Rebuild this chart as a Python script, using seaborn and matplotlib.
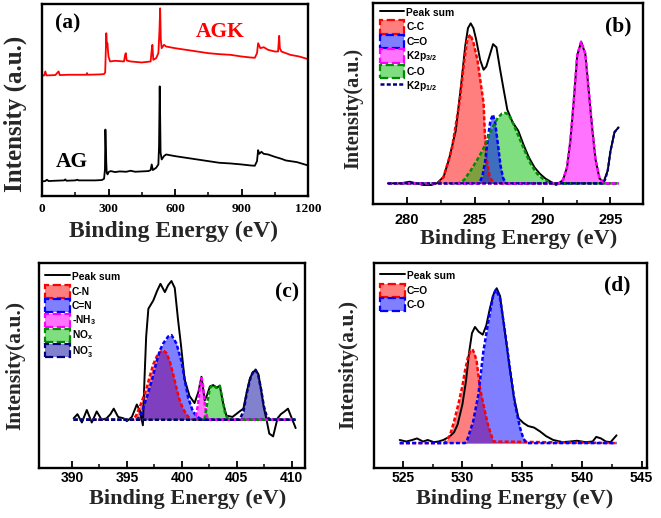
import numpy as np
import pandas as pd
import matplotlib
matplotlib.use("Agg")
import matplotlib.pyplot as plt
from matplotlib.lines import Line2D
from matplotlib.patches import Patch
import seaborn as sns

# ---- (a) survey spectra (intensity in arbitrary offset units) ----
survey_ev_ag = [0, 15, 22, 30, 60, 100, 105, 110, 150, 160, 165, 200, 240, 270, 280, 284, 286, 288,
                290, 292, 296, 300, 310, 330, 350, 380, 400, 420, 450, 480, 490, 495, 500, 515, 525,
                528, 531, 533, 535, 540, 550, 560, 600, 650, 700, 750, 800, 850, 900, 940, 960, 970,
                975, 980, 990, 1000, 1020, 1050, 1080, 1100, 1150, 1200]
survey_ag = [0.44, 0.45, 0.49, 0.45, 0.46, 0.47, 0.5, 0.46, 0.47, 0.49, 0.47, 0.47, 0.47, 0.48, 0.52,
             0.8, 2.0, 1.5, 1.0, 0.7, 0.65, 0.72, 0.75, 0.72, 0.74, 0.73, 0.76, 0.73, 0.74, 0.75,
             0.78, 0.95, 0.78, 0.85, 0.95, 1.5, 3.3, 2.4, 1.3, 1.1, 1.2, 1.25, 1.2, 1.15, 1.1, 1.05,
             1.0, 0.98, 0.95, 0.92, 0.91, 1.05, 1.38, 1.27, 1.33, 1.27, 1.25, 1.18, 1.12, 1.07,
             1.02, 0.92]
survey_ev_agk = [0, 10, 15, 20, 60, 75, 80, 120, 200, 203, 206, 260, 280, 285, 288, 290, 293, 295,
                 300, 307, 330, 370, 375, 378, 382, 400, 450, 490, 495, 498, 502, 515, 525, 530,
                 533, 536, 540, 550, 560, 600, 650, 700, 750, 800, 850, 900, 940, 960, 970, 975,
                 985, 1000, 1020, 1050, 1065, 1070, 1073, 1080, 1120, 1160, 1200]
survey_agk = [3.62, 3.63, 3.75, 3.63, 3.64, 3.75, 3.64, 3.65, 3.65, 3.7, 3.65, 3.66, 3.67, 3.72,
              4.4, 4.9, 4.5, 4.6, 4.2, 4.05, 4.07, 4.05, 4.25, 4.3, 4.08, 4.05, 4.02, 4.05, 4.4,
              4.55, 4.1, 4.15, 4.3, 5.0, 5.65, 4.7, 4.45, 4.55, 4.5, 4.45, 4.4, 4.35, 4.3, 4.27,
              4.25, 4.2, 4.17, 4.16, 4.3, 4.6, 4.45, 4.48, 4.4, 4.35, 4.35, 4.82, 4.45, 4.35,
              4.25, 4.2, 4.12]
survey_ticks = [0, 300, 600, 900, 1200]
survey_minor = [150, 450, 750, 1050]

# ---- (b) C 1s ----
c1s_sum_ev = [278.6, 279.5, 280.2, 280.7, 281.2, 281.8, 282.2, 282.7, 283.1, 283.6, 284.0, 284.3,
              284.5, 284.7, 284.9, 285.1, 285.4, 285.65, 285.85, 286.1, 286.35, 286.6, 286.85,
              287.1, 287.4, 287.8, 288.2, 288.6, 289.0, 289.4, 289.8, 290.2, 290.6, 291.0, 291.5,
              291.8, 292.05, 292.3, 292.55, 292.84, 293.15, 293.4, 293.65, 293.9, 294.2, 294.5,
              294.8, 295.0, 295.3, 295.6]
c1s_sum = [0.0, 0.0, 0.01, 0.0, -0.01, -0.01, 0.0, 0.04, 0.15, 0.33, 0.62, 0.86, 0.97, 1.0, 0.97,
           0.9, 0.77, 0.71, 0.73, 0.8, 0.87, 0.85, 0.72, 0.6, 0.46, 0.38, 0.33, 0.24, 0.16, 0.1,
           0.06, 0.03, 0.01, -0.01, 0.02, 0.1, 0.27, 0.52, 0.8, 0.885, 0.81, 0.58, 0.35, 0.15,
           0.03, 0.01, 0.08, 0.2, 0.32, 0.35]
c1s_cc_ev = [278.6, 282.3, 282.7, 283.3, 283.9, 284.2, 284.45, 284.67, 284.9, 285.2, 285.45,
             285.65, 285.75, 285.9, 286.1, 286.4, 295.6]
c1s_cc = [0, 0, 0.04, 0.21, 0.52, 0.75, 0.9, 0.93, 0.88, 0.77, 0.62, 0.5, 0.3, 0.14, 0.04, 0, 0]
c1s_c_eq_o_ev = [278.6, 285.3, 285.55, 285.75, 285.95, 286.15, 286.34, 286.5, 286.7, 286.9,
                 287.1, 287.35, 295.6]
c1s_c_eq_o = [0, 0, 0.04, 0.13, 0.27, 0.39, 0.43, 0.38, 0.25, 0.11, 0.03, 0, 0]
c1s_k32_ev = [278.6, 291.2, 291.5, 291.8, 292.05, 292.3, 292.55, 292.84, 293.15, 293.4, 293.65,
              293.9, 294.2, 294.5, 295.6]
c1s_k32 = [0, 0, 0.02, 0.1, 0.27, 0.52, 0.8, 0.885, 0.81, 0.58, 0.35, 0.15, 0.03, 0, 0]
c1s_c_o_ev = [278.6, 283.8, 284.2, 284.7, 285.2, 285.6, 285.9, 286.3, 286.7, 287.0, 287.25,
              287.5, 287.8, 288.1, 288.5, 288.85, 289.2, 289.6, 290.0, 290.4, 290.8, 295.6]
c1s_c_o = [0, 0, 0.02, 0.08, 0.15, 0.21, 0.27, 0.35, 0.41, 0.435, 0.44, 0.43, 0.38, 0.32, 0.24,
           0.17, 0.11, 0.06, 0.03, 0.01, 0, 0]
c1s_k12_ev = [278.6, 294.4, 294.6, 294.8, 295.0, 295.3, 295.6]
c1s_k12 = [0, 0, 0.02, 0.08, 0.2, 0.32, 0.35]
c1s_ticks = [280, 285, 290, 295]
c1s_minor = [282.5, 287.5, 292.5]

# ---- (c) N 1s ----
n1s_sum_ev = [390.15, 390.5, 390.9, 391.35, 391.8, 392.25, 392.7, 393.15, 393.5, 393.8, 394.2,
              394.7, 395.0, 395.45, 395.9, 396.2, 396.45, 396.6, 396.75, 396.95, 397.4, 397.75,
              398.05, 398.45, 398.75, 399.05, 399.35, 399.65, 399.9, 400.25, 400.7, 401.15, 401.5,
              401.78, 402.08, 402.3, 402.55, 402.85, 403.15, 403.45, 403.75, 404.05, 404.6,
              405.25, 405.6, 405.9, 406.2, 406.45, 406.7, 406.95, 407.2, 407.45, 407.7, 407.95,
              408.3, 408.7, 409.0, 409.35, 409.65, 410.0, 410.35]
n1s_sum = [0.01, 0.04, -0.02, 0.07, -0.02, 0.06, 0.0, 0.01, 0.04, 0.08, 0.02, 0.01, -0.01, 0.02,
           0.11, 0.06, -0.04, 0.3, 0.6, 0.8, 0.86, 0.93, 0.98, 0.92, 0.97, 1.0, 0.95, 0.72, 0.55,
           0.29, 0.17, 0.12, 0.2, 0.31, 0.14, 0.18, 0.24, 0.25, 0.23, 0.245, 0.12, 0.03, 0.02,
           0.06, 0.08, 0.2, 0.3, 0.34, 0.36, 0.33, 0.22, 0.09, 0.0, -0.1, -0.12, 0.01, 0.04,
           0.06, 0.08, 0.01, -0.06]
n1s_cn_ev = [390.15, 395.6, 395.9, 396.3, 396.8, 397.1, 397.4, 397.85, 398.3, 398.6, 398.9,
             399.2, 399.5, 399.8, 400.1, 400.4, 400.7, 401.0, 410.35]
n1s_cn = [0, 0, 0.04, 0.12, 0.23, 0.32, 0.4, 0.48, 0.5, 0.48, 0.42, 0.33, 0.23, 0.14, 0.08,
          0.04, 0.01, 0, 0]
n1s_c_eq_n_ev = [390.15, 395.9, 396.3, 396.8, 397.25, 397.7, 398.0, 398.3, 398.75, 399.06, 399.5,
                 399.97, 400.27, 400.57, 401.0, 401.3, 401.6, 402.0, 410.35]
n1s_c_eq_n = [0, 0, 0.04, 0.16, 0.28, 0.42, 0.5, 0.55, 0.6, 0.61, 0.55, 0.42, 0.28, 0.16, 0.06,
              0.03, 0.01, 0, 0]
n1s_nh3_ev = [390.15, 401.2, 401.45, 401.65, 401.78, 401.92, 402.1, 402.35, 410.35]
n1s_nh3 = [0, 0, 0.1, 0.25, 0.3, 0.25, 0.1, 0, 0]
n1s_nox_ev = [390.15, 402.05, 402.3, 402.55, 402.85, 403.15, 403.45, 403.7, 403.95, 404.25, 410.35]
n1s_nox = [0, 0, 0.12, 0.23, 0.25, 0.23, 0.245, 0.14, 0.04, 0, 0]
n1s_no3_ev = [390.15, 405.25, 405.6, 405.9, 406.2, 406.45, 406.7, 406.95, 407.2, 407.45, 407.7,
              408.0, 410.35]
n1s_no3 = [0, 0, 0.06, 0.19, 0.29, 0.34, 0.36, 0.32, 0.22, 0.1, 0.03, 0, 0]
n1s_ticks = [390, 395, 400, 405, 410]
n1s_minor = [392.5, 397.5, 402.5, 407.5]

# ---- (d) O 1s ----
o1s_sum_ev = [524.75, 525.3, 525.8, 526.2, 526.7, 527.1, 527.6, 528.0, 528.4, 528.9, 529.3, 529.6,
              530.0, 530.3, 530.55, 530.8, 531.05, 531.35, 531.7, 532.0, 532.3, 532.6, 532.87,
              533.15, 533.5, 533.9, 534.3, 534.7, 535.1, 535.5, 536.0, 536.5, 537.0, 537.6,
              538.4, 539.0, 539.6, 540.3, 540.9, 541.2, 541.6, 542.0, 542.4, 542.9]
o1s_sum = [0.02, 0.01, 0.02, 0.03, 0.01, 0.02, 0.006, 0.01, 0.02, 0.04, 0.07, 0.12, 0.25, 0.4,
           0.58, 0.71, 0.75, 0.72, 0.7, 0.76, 0.87, 0.96, 1.0, 0.95, 0.75, 0.52, 0.3, 0.16, 0.13,
           0.11, 0.1, 0.075, 0.045, 0.02, 0.006, 0.01, 0.015, 0.006, 0.01, 0.04, 0.03, 0.01,
           0.006, 0.05]
o1s_c_eq_o_ev = [524.75, 528.5, 528.96, 529.3, 529.66, 530.0, 530.2, 530.45, 530.64, 530.83,
                 531.0, 531.19, 531.47, 531.7, 531.9, 532.1, 532.31, 532.6, 542.9]
o1s_c_eq_o = [0, 0, 0.05, 0.14, 0.25, 0.37, 0.46, 0.55, 0.59, 0.606, 0.58, 0.53, 0.355, 0.27,
              0.2, 0.13, 0.075, 0.01, 0]
o1s_c_o_ev = [524.75, 530.2, 530.36, 530.9, 531.33, 531.75, 532.17, 532.59, 532.8, 533.15,
              533.56, 533.98, 534.4, 534.82, 535.1, 535.38, 542.9]
o1s_c_o = [0, 0, 0.01, 0.14, 0.31, 0.59, 0.785, 0.96, 0.99, 0.935, 0.72, 0.48, 0.25, 0.1, 0.03,
           0, 0]
o1s_ticks = [525, 530, 535, 540, 545]
o1s_minor = [527.5, 532.5, 537.5, 542.5]

SERIF = "Liberation Serif"
SANS = "Liberation Sans"

sns.set_style("white")
plt.rcParams.update({
    "font.family": [SANS, "DejaVu Sans"],
    "axes.edgecolor": "black",
    "text.color": "black",
    "xtick.color": "black",
    "xtick.direction": "in",
})

RED, BLUE, MAG, GREEN, NAVY = "#ff0000", "#0000ff", "#ff00ff", "#008c00", "#000080"
FILLS = {RED: (1, 0, 0, 0.5), BLUE: (0, 0, 1, 0.5), MAG: (1, 0, 1, 0.55),
         GREEN: (0, 0.75, 0, 0.5), NAVY: (0.1, 0.1, 0.65, 0.55)}
DASH = (0, (1.6, 0.9))

fig = plt.figure(figsize=(6.61, 5.18), dpi=100)
ax_a = fig.add_axes([42 / 661, 1 - 196 / 518, 266 / 661, 192 / 518])
ax_b = fig.add_axes([373 / 661, 1 - 204 / 518, 270 / 661, 201 / 518])
ax_c = fig.add_axes([39 / 661, 1 - 468 / 518, 266 / 661, 205 / 518])
ax_d = fig.add_axes([374 / 661, 1 - 468 / 518, 273 / 661, 205 / 518])


def line(ax, ev, vals, color, lw=1.4, ls="-"):
    df = pd.DataFrame({"ev": ev, "val": vals})
    sns.lineplot(data=df, x="ev", y="val", ax=ax, color=color, lw=lw, linestyle=ls,
                 estimator=None, sort=False)


def fill(ax, ev, vals, color):
    ax.fill_between(ev, 0, vals, color=FILLS[color], lw=0)


def frame(ax, xlim, ylim, ticks, minor, font, tsize, pad):
    ax.set_xlim(xlim)
    ax.set_ylim(ylim)
    ax.set_xticks(ticks, labels=[str(t) for t in ticks], fontfamily=font,
                  fontweight="bold", fontsize=tsize)
    ax.set_xticks(minor, minor=True)
    ax.set_yticks([])
    ax.tick_params(axis="x", which="major", direction="in", length=5, width=1.3, pad=pad,
                   bottom=True, top=False)
    ax.tick_params(axis="x", which="minor", direction="in", length=3, width=1.1,
                   bottom=True, top=False)
    for s in ax.spines.values():
        s.set_visible(True)
        s.set_linewidth(1.7)
        s.set_color("black")


def labels(ax, xsize, ysize, ytext, xpos, ypos):
    ax.set_xlabel("Binding Energy (eV)", fontfamily=SERIF, fontweight="bold", fontsize=xsize)
    ax.set_ylabel(ytext, fontfamily=SERIF, fontweight="bold", fontsize=ysize)
    ax.xaxis.set_label_coords(*xpos)
    ax.yaxis.set_label_coords(*ypos)


def legend(ax, entries, anchor):
    handles, names = [], []
    for name, color, kind in entries:
        if kind == "sum":
            handles.append(Line2D([], [], color="black", lw=1.4))
        elif kind == "line":
            handles.append(Line2D([], [], color=color, lw=1.8, linestyle=DASH))
        else:
            handles.append(Patch(facecolor=FILLS[color], edgecolor=color, linestyle="--",
                                 linewidth=1.6))
        names.append(name)
    ax.legend(handles, names, loc="upper left", bbox_to_anchor=anchor, frameon=False,
              borderaxespad=0, borderpad=0, handlelength=2.4, handleheight=1.6,
              labelspacing=0.12, handletextpad=0.2,
              prop={"family": SANS, "weight": "bold", "size": 7.4})


# (a)
line(ax_a, survey_ev_ag, survey_ag, "black", lw=1.3)
line(ax_a, survey_ev_agk, survey_agk, RED, lw=1.3)
frame(ax_a, (0, 1200), (0, 5.78), survey_ticks, survey_minor, SERIF, 9.5, 5)
labels(ax_a, 17, 18, "Intensity (a.u.)", (0.496, -0.13), (-0.056, 0.427))
ax_a.text(0.098, 0.90, "(a)", transform=ax_a.transAxes, ha="center", va="center",
          fontfamily=SERIF, fontweight="bold", fontsize=15.5)
ax_a.text(0.669, 0.854, "AGK", transform=ax_a.transAxes, ha="center", va="center",
          color=RED, fontfamily=SERIF, fontweight="bold", fontsize=15.5)
ax_a.text(0.113, 0.177, "AG", transform=ax_a.transAxes, ha="center", va="center",
          fontfamily=SERIF, fontweight="bold", fontsize=15.5)

# (b)
fill(ax_b, c1s_cc_ev, c1s_cc, RED)
fill(ax_b, c1s_c_o_ev, c1s_c_o, GREEN)
fill(ax_b, c1s_c_eq_o_ev, c1s_c_eq_o, BLUE)
fill(ax_b, c1s_k32_ev, c1s_k32, MAG)
line(ax_b, c1s_sum_ev, c1s_sum, "black")
line(ax_b, c1s_cc_ev, c1s_cc, RED, 1.8, DASH)
line(ax_b, c1s_c_eq_o_ev, c1s_c_eq_o, BLUE, 1.8, DASH)
line(ax_b, c1s_c_o_ev, c1s_c_o, GREEN, 1.8, DASH)
line(ax_b, c1s_k32_ev, c1s_k32, MAG, 1.8, DASH)
line(ax_b, c1s_k12_ev, c1s_k12, NAVY, 1.6, DASH)
frame(ax_b, (277.5, 297.4), (-0.129, 1.127), c1s_ticks, c1s_minor, SANS, 10.5, 6.5)
labels(ax_b, 16, 14.5, "Intensity(a.u.)", (0.54, -0.125), (-0.037, 0.473))
ax_b.text(0.907, 0.885, "(b)", transform=ax_b.transAxes, ha="center", va="center",
          fontfamily=SERIF, fontweight="bold", fontsize=15.5)
legend(ax_b, [("Peak sum", "black", "sum"), ("C-C", RED, "patch"), ("C=O", BLUE, "patch"),
              (r"K2p$_{\mathregular{3/2}}$", MAG, "patch"), ("C-O", GREEN, "patch"),
              (r"K2p$_{\mathregular{1/2}}$", NAVY, "line")], (0.025, 0.985))

# (c)
fill(ax_c, n1s_cn_ev, n1s_cn, RED)
fill(ax_c, n1s_c_eq_n_ev, n1s_c_eq_n, BLUE)
fill(ax_c, n1s_nh3_ev, n1s_nh3, MAG)
fill(ax_c, n1s_nox_ev, n1s_nox, GREEN)
fill(ax_c, n1s_no3_ev, n1s_no3, NAVY)
line(ax_c, n1s_sum_ev, n1s_sum, "black")
line(ax_c, n1s_cn_ev, n1s_cn, RED, 1.8, DASH)
line(ax_c, n1s_c_eq_n_ev, n1s_c_eq_n, BLUE, 1.8, DASH)
line(ax_c, n1s_nh3_ev, n1s_nh3, MAG, 1.8, DASH)
line(ax_c, n1s_nox_ev, n1s_nox, GREEN, 1.8, DASH)
line(ax_c, n1s_no3_ev, n1s_no3, NAVY, 1.8, DASH)
frame(ax_c, (387.0, 411.2), (-0.348, 1.13), n1s_ticks, n1s_minor, SANS, 10, 2.5)
labels(ax_c, 16, 15.5, "Intensity(a.u.)", (0.56, -0.103), (-0.053, 0.50))
ax_c.text(0.932, 0.858, "(c)", transform=ax_c.transAxes, ha="center", va="center",
          fontfamily=SERIF, fontweight="bold", fontsize=15.5)
legend(ax_c, [("Peak sum", "black", "sum"), ("C-N", RED, "patch"), ("C=N", BLUE, "patch"),
              (r"-NH$_{\mathregular{3}}$", MAG, "patch"),
              (r"NO$_{\mathregular{x}}$", GREEN, "patch"),
              (r"NO$_{\mathregular{3}}^{\mathregular{-}}$", NAVY, "patch")], (0.023, 0.965))

# (d)
fill(ax_d, o1s_c_eq_o_ev, o1s_c_eq_o, RED)
fill(ax_d, o1s_c_o_ev, o1s_c_o, BLUE)
line(ax_d, o1s_sum_ev, o1s_sum, "black")
line(ax_d, o1s_c_eq_o_ev, o1s_c_eq_o, RED, 1.8, DASH)
line(ax_d, o1s_c_o_ev, o1s_c_o, BLUE, 1.8, DASH)
frame(ax_d, (522.6, 545.45), (-0.161, 1.163), o1s_ticks, o1s_minor, SANS, 10, 2.5)
labels(ax_d, 16, 15.5, "Intensity(a.u.)", (0.516, -0.103), (-0.059, 0.505))
ax_d.text(0.89, 0.888, "(d)", transform=ax_d.transAxes, ha="center", va="center",
          fontfamily=SERIF, fontweight="bold", fontsize=15.5)
legend(ax_d, [("Peak sum", "black", "sum"), ("C=O", RED, "patch"), ("C-O", BLUE, "patch")],
       (0.022, 0.97))

fig.savefig("out.png", dpi=100, facecolor="white")
